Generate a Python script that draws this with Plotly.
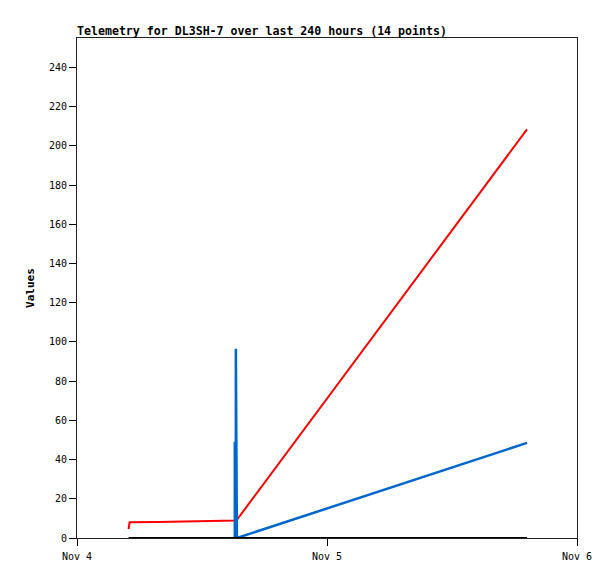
import pandas as pd
import plotly.graph_objects as go

# red / black sample times (hours after Nov 4 00:00)
hours = [4.95, 5.05, 7.8, 12.8, 15.3, 43.2]
red_vals = [4.5, 8.0, 8.2, 8.7, 8.9, 208.4]
black_vals = [0, 0, 0, 0, 0, 0]

# blue spike series
blue_hours = [15.15, 15.15, 15.25, 15.25, 15.35, 43.2]
blue_vals = [0, 48.4, 48.4, 96.5, 0, 48.5]

y_ticks = list(range(0, 241, 20))
x_ticks = ["2024-11-04", "2024-11-05", "2024-11-06"]
x_labels = ["Nov 4", "Nov 5", "Nov 6"]

t0 = pd.Timestamp("2024-11-04")
times = [t0 + pd.Timedelta(hours=h) for h in hours]
blue_times = [t0 + pd.Timedelta(hours=h) for h in blue_hours]

mono = "DejaVu Sans Mono"

fig = go.Figure()

fig.add_trace(go.Scatter(x=times, y=red_vals, mode='lines', name='red',
                         line=dict(color='#ff0000', width=2)))
fig.add_trace(go.Scatter(x=blue_times, y=blue_vals, mode='lines', name='blue',
                         line=dict(color='#0066cc', width=2.5)))
fig.add_trace(go.Scatter(x=times, y=black_vals, mode='lines', name='black',
                         line=dict(color='#000000', width=2)))

# page body has an 8px margin, so shift everything up/left by 8
fig.update_layout(
    width=615, height=579,
    margin=dict(l=69, r=46, t=30, b=49),
    paper_bgcolor='white',
    plot_bgcolor='white',
    showlegend=False,
    title=dict(text="<b>Telemetry for DL3SH-7 over last 240 hours (14 points)</b>",
               x=69 / 615, xanchor='left', y=1 - 23 / 579, yanchor='middle',
               font=dict(family=mono, size=11.6, color='black')),
    xaxis=dict(range=["2024-11-04", "2024-11-06"], tickvals=x_ticks, ticktext=x_labels,
               showgrid=False, zeroline=False, showline=True, linecolor='#222',
               linewidth=1, mirror=True, ticks='outside', ticklen=7, tickcolor='black',
               ticklabelstandoff=2,
               tickfont=dict(family=mono, size=10, color='black')),
    yaxis=dict(range=[0, 255], tickvals=y_ticks, showgrid=False, zeroline=False,
               showline=True, linecolor='#222', linewidth=1, mirror=True,
               ticks='outside', ticklen=7, tickcolor='black',
               title=dict(text="<b>Values</b>", standoff=12,
                          font=dict(family=mono, size=11, color='black')),
               tickfont=dict(family=mono, size=10, color='black')),
)

fig.write_html("out.html")
